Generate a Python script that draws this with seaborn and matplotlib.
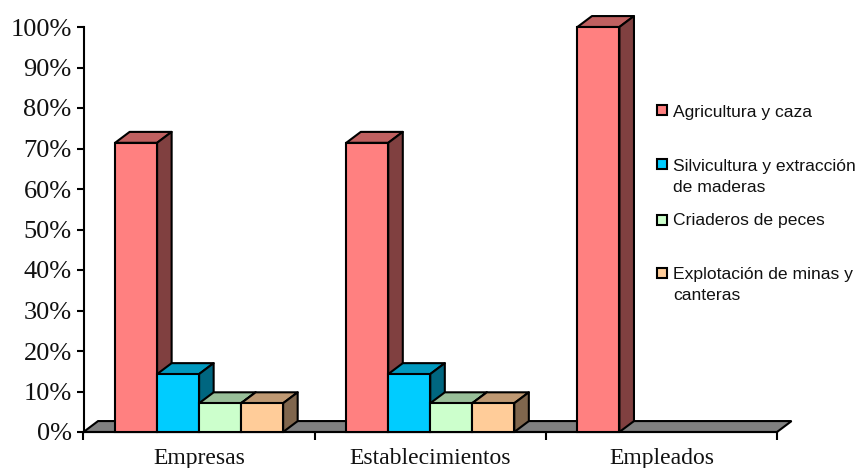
import matplotlib
matplotlib.use("Agg")
import matplotlib.pyplot as plt
from matplotlib.colors import to_rgb
from matplotlib.patches import Polygon, Rectangle
import pandas as pd
import seaborn as sns

# Chart values
sectores = ["Empresas", "Establecimientos", "Empleados"]
ramas = [
    "Agricultura y caza",
    "Silvicultura y extracción\nde maderas",
    "Criaderos de peces",
    "Explotación de minas y\ncanteras",
]
agricultura = [71.4, 71.4, 100.0]
silvicultura = [14.3, 14.3, 0.0]
criaderos = [7.1, 7.1, 0.0]
explotacion = [7.1, 7.1, 0.0]
colores = ["#FF8080", "#00CCFF", "#CCFFCC", "#FFCC99"]
ticks_y = list(range(0, 101, 10))

W, H = 860, 468
DEPTH_X = 0.063   # oblique depth, in category widths
DEPTH_Y = 2.7     # oblique depth, in percentage points
LW = 1.5

sns.set_theme(style="white")
plt.rcParams["font.family"] = ["Liberation Serif", "DejaVu Serif"]

tabla = pd.DataFrame({
    "sector": sectores * 4,
    "rama": [r for r in ramas for _ in sectores],
    "valor": agricultura + silvicultura + criaderos + explotacion,
})

fig = plt.figure(figsize=(W / 100, H / 100), dpi=100, facecolor="white")
ax = fig.add_axes([83.5 / W, 1 - 432 / H, (777 - 83.5) / W, (432 - 27) / H])

sns.barplot(
    data=tabla, x="sector", y="valor", hue="rama", hue_order=ramas,
    order=sectores, palette=colores, saturation=1, width=0.727, gap=0,
    edgecolor="black", linewidth=LW, legend=False, ax=ax,
)
ax.set_xlim(-0.5, 2.5)
ax.set_ylim(0, 100)


def sombra(color, factor):
    return tuple(c * factor for c in to_rgb(color))


# Floor of the oblique view, behind every bar
x0, x1 = ax.get_xlim()
ax.add_patch(Polygon(
    [(x0, 0), (x0 + DEPTH_X, DEPTH_Y), (x1 + DEPTH_X, DEPTH_Y), (x1, 0)],
    closed=True, facecolor="#808080", edgecolor="black", linewidth=LW,
    clip_on=False, zorder=1.5,
))

# Top and side faces, stacked left to right so nearer bars overlap
for i, (contenedor, color) in enumerate(zip(ax.containers, colores)):
    for j, barra in enumerate(contenedor):
        h = barra.get_height()
        if h <= 0:
            barra.set_visible(False)
            continue
        z = 3 + j * 10 + i
        x = barra.get_x()
        w = barra.get_width()
        barra.set_zorder(z + 0.2)
        barra.set_clip_on(False)
        ax.add_patch(Polygon(
            [(x, h), (x + DEPTH_X, h + DEPTH_Y), (x + w + DEPTH_X, h + DEPTH_Y), (x + w, h)],
            closed=True, facecolor=sombra(color, 0.75), edgecolor="black",
            linewidth=LW, joinstyle="round", clip_on=False, zorder=z,
        ))
        ax.add_patch(Polygon(
            [(x + w, 0), (x + w + DEPTH_X, DEPTH_Y), (x + w + DEPTH_X, h + DEPTH_Y), (x + w, h)],
            closed=True, facecolor=sombra(color, 0.5), edgecolor="black",
            linewidth=LW, joinstyle="round", clip_on=False, zorder=z + 0.1,
        ))

# Axes
sns.despine(ax=ax, top=True, right=True)
for lado in ("left", "bottom"):
    ax.spines[lado].set_color("black")
    ax.spines[lado].set_linewidth(LW)
    ax.spines[lado].set_zorder(2)
ax.set_xlabel("")
ax.set_ylabel("")
ax.set_yticks(ticks_y)
ax.set_yticklabels([f"{t}%" for t in ticks_y], fontsize=19, color="#111111")
ax.tick_params(axis="y", length=5, width=LW, color="black", left=True, pad=3.5)
ax.set_xticks(range(len(sectores)))
ax.set_xticklabels(sectores, fontsize=17, color="#111111")
ax.set_xticks([-0.5, 0.5, 1.5, 2.5], minor=True)
ax.tick_params(axis="x", which="major", length=0, pad=11.5)
ax.tick_params(axis="x", which="minor", length=6, width=LW, color="black", bottom=True)

# Legend, with each entry placed on its own row
filas_clave = [110, 164, 220, 273]
filas_texto = [112, 176.5, 221, 285]
for rama, color, yc, yt in zip(ramas, colores, filas_clave, filas_texto):
    fig.add_artist(Rectangle(
        (657 / W, 1 - (yc + 5) / H), 10 / W, 10 / H, transform=fig.transFigure,
        facecolor=color, edgecolor="black", linewidth=LW,
    ))
    fig.text(
        673 / W, 1 - yt / H, rama, fontsize=12.6, family="Liberation Sans",
        color="#111111", va="center", ha="left", linespacing=1.5,
    )

fig.savefig("out.png", dpi=100, facecolor="white")
